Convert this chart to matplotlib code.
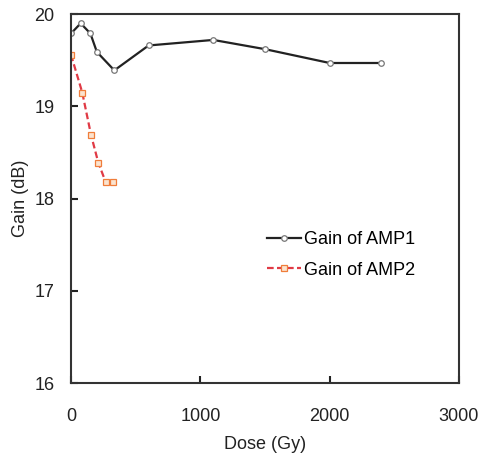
import matplotlib.pyplot as plt

# Dose (Gy) and gain (dB)
dose_amp1 = [0, 75, 150, 200, 335, 600, 1100, 1500, 2000, 2400]
gain_amp1 = [19.79, 19.90, 19.79, 19.59, 19.39, 19.66, 19.72, 19.62, 19.47, 19.47]

dose_amp2 = [0, 87, 155, 211, 268, 327]
gain_amp2 = [19.56, 19.15, 18.69, 18.39, 18.18, 18.18]

x_ticks = [0, 1000, 2000, 3000]
y_ticks = [16, 17, 18, 19, 20]

plt.rcParams['font.family'] = ['Liberation Sans', 'DejaVu Sans']

fig = plt.figure(figsize=(4.81, 4.55), dpi=100)
ax = fig.add_axes([0.1476, 0.158, 0.8067, 0.811])

ax.plot(dose_amp1, gain_amp1, color='#222222', linewidth=1.6, marker='o',
        markersize=4, markerfacecolor='white', markeredgecolor='#777777',
        markeredgewidth=0.9, label='Gain of AMP1')
ax.plot(dose_amp2, gain_amp2, color='#e03a45', linewidth=1.6, linestyle='--',
        dashes=(3, 1.5), marker='s', markersize=4, markerfacecolor='#fbe3cf',
        markeredgecolor='#f07d3a', markeredgewidth=0.9, label='Gain of AMP2')

ax.set_xlim(0, 3000)
ax.set_ylim(16, 20)
ax.set_xticks(x_ticks)
ax.set_yticks(y_ticks)
ax.tick_params(direction='in', length=5, width=1.5, labelsize=13,
               colors='#222222')
ax.tick_params(axis='x', pad=18)
ax.tick_params(axis='y', pad=12)
for s in ax.spines.values():
    s.set_linewidth(1.5)
    s.set_color('#333333')

ax.set_xlabel('Dose (Gy)', fontsize=13, color='#222222', labelpad=8)
ax.set_ylabel('Gain (dB)', fontsize=13, color='#222222', labelpad=4)

ax.legend(loc='upper left', bbox_to_anchor=(0.462, 0.456), frameon=False,
          fontsize=13, handlelength=1.9, handletextpad=0.2, labelspacing=0.75)

fig.savefig('out.png', dpi=100)
